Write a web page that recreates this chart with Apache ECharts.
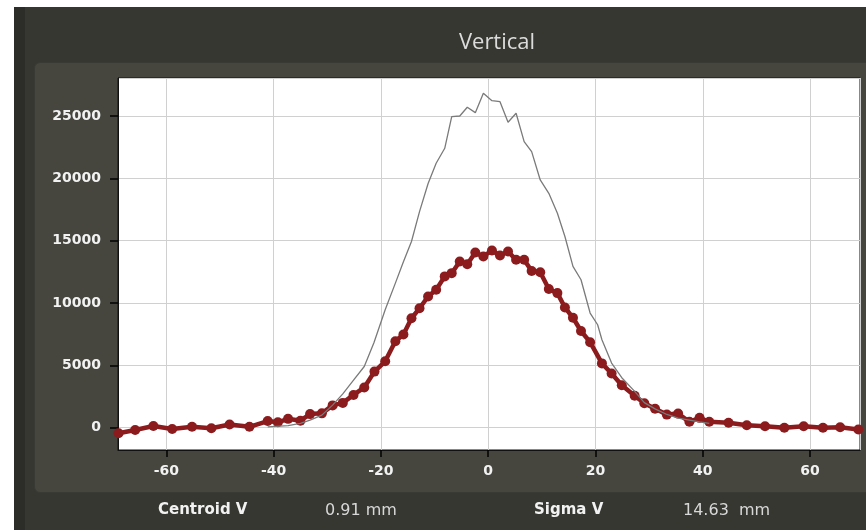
<!DOCTYPE html>
<html>
<head>
<meta charset="utf-8">
<script src="https://cdn.jsdelivr.net/npm/echarts@6/dist/echarts.min.js"></script>
<style>
html,body{margin:0;padding:0;width:866px;height:530px;background:#ffffff;overflow:hidden;}
#bg{position:absolute;left:14px;top:7px;right:0;bottom:0;background:#373732;border-left:11px solid #2c2c28;box-sizing:border-box;}
#panel{position:absolute;left:34px;top:62px;width:850px;height:431px;background:#46463f;border:1px solid #3a3a35;border-radius:6px;box-sizing:border-box;}
#chart{position:absolute;left:0;top:0;width:866px;height:530px;}
</style>
</head>
<body>
<div id="bg"></div>
<div id="panel"></div>
<div id="chart"></div>
<script>
// Fitted profile (red, with markers)
const redX = [-68.9,-65.8,-62.4,-58.9,-55.2,-51.6,-48.2,-44.5,-41.1,-39.2,-37.3,-35.0,-33.2,-31.0,-29.0,-27.1,-25.1,-23.1,-21.2,-19.2,-17.3,-15.8,-14.3,-12.8,-11.2,-9.7,-8.1,-6.8,-5.3,-3.9,-2.4,-0.9,0.7,2.2,3.7,5.2,6.7,8.1,9.7,11.3,12.9,14.3,15.8,17.3,19.0,21.2,23.0,24.9,27.3,29.1,31.1,33.3,35.4,37.5,39.4,41.2,44.8,48.2,51.6,55.2,58.8,62.4,65.6,69.0];
const redY = [-460,-200,120,-120,60,-60,250,60,520,420,700,550,1080,1140,1780,1980,2620,3220,4490,5320,6930,7470,8770,9570,10520,11060,12130,12390,13330,13110,14050,13730,14210,13810,14130,13460,13460,12570,12460,11120,10790,9640,8810,7750,6850,5150,4340,3400,2560,1950,1510,1040,1120,460,780,460,380,180,100,-20,100,-20,20,-160];
// Raw profile (gray)
const grayX = [-41.1,-37.3,-35.0,-33.2,-31.0,-29.0,-27.1,-25.1,-23.1,-21.3,-19.2,-17.3,-15.8,-14.3,-12.8,-11.2,-9.7,-8.1,-6.8,-5.3,-3.9,-2.4,-0.9,0.7,2.2,3.7,5.2,6.7,8.1,9.7,11.3,12.9,14.3,15.8,17.3,19.0,20.4,21.2,23.0,24.9,27.3,29.1,31.1,33.3,35.4,37.5,39.4,41.2];
const grayY = [60,150,340,600,1000,1800,2700,3800,4900,6800,9450,11590,13300,14930,17330,19580,21210,22410,24950,25000,25700,25270,26820,26230,26150,24500,25220,22940,22140,19870,18800,17200,15330,12930,11860,9190,8250,7050,5180,4000,2900,2000,1500,1050,750,600,450,340];
const xTicks = [-60,-40,-20,0,20,40,60];
const yTicks = [0,5000,10000,15000,20000,25000];
const titleText = 'Vertical';
const footer = [['Centroid V','0.91 mm'],['Sigma V','14.63  mm']];

const chart = echarts.init(document.getElementById('chart'), null, {renderer:'canvas'});
const lblFont = {color:'#f2f2f2', fontWeight:'bold', fontSize:14, fontFamily:'DejaVu Sans'};
chart.setOption({
  backgroundColor:'transparent',
  animation:false,
  title:{text:titleText, left:492, top:27, textAlign:'center',
    textStyle:{color:'#dcdcdc', fontSize:22, fontWeight:'normal', fontFamily:'Open Sans'}},
  grid:{left:118, right:6, top:78, bottom:80, show:true, backgroundColor:'#ffffff', borderColor:'#111111', borderWidth:1},
  xAxis:{type:'value', min:-69, max:69.3, splitNumber:7,
    axisLine:{show:true, onZero:false, lineStyle:{color:'#111', width:1}},
    axisTick:{show:true, inside:false, length:7, lineStyle:{color:'#000', width:1.5}},
    axisLabel:Object.assign({margin:14, showMinLabel:false, showMaxLabel:false,
      formatter:v=>xTicks.includes(v)?String(v):''}, lblFont),
    splitLine:{show:true, lineStyle:{color:'#d0d0d0', width:1}}},
  yAxis:{type:'value', min:-1800, max:28050, splitNumber:6,
    axisLine:{show:true, onZero:false, lineStyle:{color:'#111', width:1}},
    axisTick:{show:true, inside:false, length:8, lineStyle:{color:'#000', width:1.5}},
    axisLabel:Object.assign({margin:17, showMinLabel:false, showMaxLabel:false,
      formatter:v=>yTicks.includes(v)?String(v):''}, lblFont),
    splitLine:{show:true, lineStyle:{color:'#d0d0d0', width:1}}},
  series:[
    {type:'line', data:redX.map((x,i)=>[x,redY[i]]), symbol:'circle', symbolSize:10, showSymbol:true,
      lineStyle:{color:'#8c1b1d', width:4.5}, itemStyle:{color:'#8c1b1d', borderWidth:0}, z:2},
    {type:'line', data:grayX.map((x,i)=>[x,grayY[i]]), symbol:'none',
      lineStyle:{color:'#7a7a7a', width:1.3}, z:3}
  ],
  graphic:[
    {type:'text', left:158, top:503, style:{text:footer[0][0], fill:'#f2f2f2', font:'bold 15px "DejaVu Sans"'}},
    {type:'text', left:325, top:503, style:{text:footer[0][1], fill:'#d8d8d8', font:'16px "DejaVu Sans"'}},
    {type:'text', left:534, top:503, style:{text:footer[1][0], fill:'#f2f2f2', font:'bold 15px "DejaVu Sans"'}},
    {type:'text', left:683, top:503, style:{text:footer[1][1], fill:'#d8d8d8', font:'16px "DejaVu Sans"'}}
  ]
});
</script>
</body>
</html>
